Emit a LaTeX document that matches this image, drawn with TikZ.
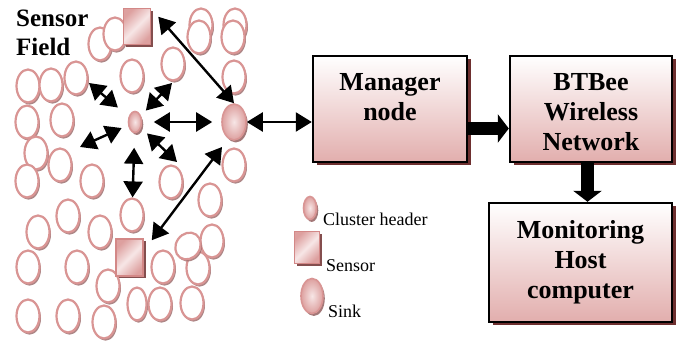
\documentclass[tikz,border=0pt]{standalone}
\usepackage{fontspec}
\setmainfont{Liberation Serif}
\usetikzlibrary{shapes.geometric,arrows.meta,shadows,calc}
\definecolor{pinkline}{HTML}{D99594}
\definecolor{boxpink}{HTML}{E2AEAD}
\definecolor{shadowred}{HTML}{6E2F2F}
\definecolor{sqpink}{HTML}{DDA09F}
\definecolor{sqlight}{HTML}{F7E6E6}
\definecolor{sqline}{HTML}{D38887}
\definecolor{eshadow}{HTML}{9A6A6A}
\begin{document}
\begin{tikzpicture}[x=1pt,y=-1pt,
  fld/.style={ellipse,draw=pinkline,line width=2.2pt,fill=white,minimum width=23pt,minimum height=33pt,inner sep=0pt,
    drop shadow={shadow xshift=1.5pt,shadow yshift=-2.2pt,fill=eshadow,opacity=0.8}},
  shd/.style={ellipse,draw=pinkline,line width=1.6pt,inner sep=0pt,inner color=sqlight,outer color=sqpink,
    drop shadow={shadow xshift=1.8pt,shadow yshift=-2.5pt,fill=eshadow,opacity=0.9}},
  sq/.style={rectangle,draw=sqline,line width=1.5pt,inner sep=0pt,left color=sqpink,right color=sqpink,middle color=sqlight,shading angle=45,
    drop shadow={shadow xshift=2.5pt,shadow yshift=-2.5pt,fill=shadowred!85,opacity=1}},
  box/.style={rectangle,draw=black,line width=2.4pt,top color=white,bottom color=boxpink,inner sep=0pt,
    drop shadow={shadow xshift=3.5pt,shadow yshift=-3.5pt,fill=shadowred,opacity=1}},
  btxt/.style={font=\bfseries\fontsize{26}{30}\selectfont,align=center,inner sep=0pt},
  ltxt/.style={font=\fontsize{18}{21}\selectfont,inner sep=0pt,anchor=base west},
  dbl/.style={line width=2.4pt,>={Triangle[length=16pt,width=19pt]},<->},
  fat/.style={line width=13.5pt,>={Triangle[length=11pt,width=28pt]},->}
]
\fill[white] (0,0) rectangle (680,344);
\useasboundingbox (0,0) rectangle (680,344);

% sensor field ellipses
\foreach \n/\x/\y in {1/100/44, 2/115/34, 3/201/25, 4/199/37, 5/235/25, 6/233/37,
  7/173/64, 8/132/76, 9/234/77, 10/28/86, 11/51/85, 12/76/78,
  13/27/122, 14/62/120, 15/36/153, 16/60/165, 17/27/181, 18/92/181,
  19/171/182, 20/234/165, 21/210/200, 22/132/215, 23/68/216, 24/38/232,
  25/100/232, 26/212/241, 28/28/267, 29/77/267, 30/108/286,
  31/163/267, 32/198/268, 34/160/304, 35/192/303, 36/28/316, 37/68/316, 38/104/322}
  \node[fld] (e\n) at (\x,\y) {};
\node[fld,minimum width=24pt,minimum height=28pt,rotate=-35] (e27) at (188,246) {};
\node[fld,minimum width=19pt] (e33) at (137,304) {};

% sensors, cluster header, sink
\node[sq,minimum width=27pt,minimum height=36pt] (s1) at (137,26.5) {};
\node[sq,minimum width=27pt,minimum height=37pt] (s2) at (129.5,257.5) {};
\node[shd,minimum width=13pt,minimum height=21pt] (ch) at (135,122) {};
\node[shd,minimum width=24pt,minimum height=36pt] (sink) at (234,122) {};

\node[font=\bfseries\fontsize{25}{29}\selectfont,align=left,inner sep=0pt,anchor=north west] (sf) at (16,10) {Sensor\\Field};

% arrows in the field
\coordinate (a1c) at (89,83);
\coordinate (a2c) at (172,83);
\coordinate (a4c) at (80,147);
\coordinate (a5c) at (177,162);
\draw[dbl,shorten <=14pt] (ch) -- (a1c);
\draw[dbl,shorten <=7pt] (ch) -- (a2c);
\draw[dbl,shorten <=11.5pt,shorten >=9pt] (ch) -- (sink);
\draw[dbl,shorten <=7pt] (ch) -- (a4c);
\draw[dbl,shorten <=8pt] (ch) -- (a5c);
\draw[dbl,shorten <=14.5pt] (ch) -- (e22);
\draw[dbl] ([shift={(7pt,-9pt)}]s1.north east) -- (sink.north);
\draw[dbl] ([shift={(8pt,-2pt)}]s2.north east) -- ([shift={(-12pt,-25pt)}]sink.center);

% boxes
\node[box,minimum width=154pt,minimum height=106pt] (mgr) at (390,109) {};
\node[box,minimum width=162pt,minimum height=106pt] (bt) at (591,109) {};
\node[box,minimum width=183pt,minimum height=119pt] (mon) at (580.5,262.5) {};
\node[btxt] (mgrt) at (390,97) {Manager\\node};
\node[btxt] (btt) at (591,112) {BTBee\\Wireless\\Network};
\node[btxt] (mont) at (580.5,262) {Monitoring\\Host\\computer};

\draw[dbl] (sink.east) -- (sink.east -| mgr.west);
\draw[fat] ([yshift=-19.5pt]mgr.east) -- ([yshift=-19.5pt]bt.west);
\draw[fat] ([xshift=-3.5pt]bt.south) -- ([xshift=-3.5pt]bt.south |- mon.north);

% legend
\node[shd,minimum width=13pt,minimum height=23pt] (lch) at (310,208) {};
\node[sq,minimum width=25pt,minimum height=32pt] (lsq) at (307,247.5) {};
\node[shd,minimum width=22pt,minimum height=35pt] (lsink) at (312,296) {};
\node[ltxt] (lcht) at (323,226) {Cluster header};
\node[ltxt] (lsqt) at (326,272) {Sensor};
\node[ltxt] (lsinkt) at (328,318) {Sink};
\end{tikzpicture}
\end{document}
